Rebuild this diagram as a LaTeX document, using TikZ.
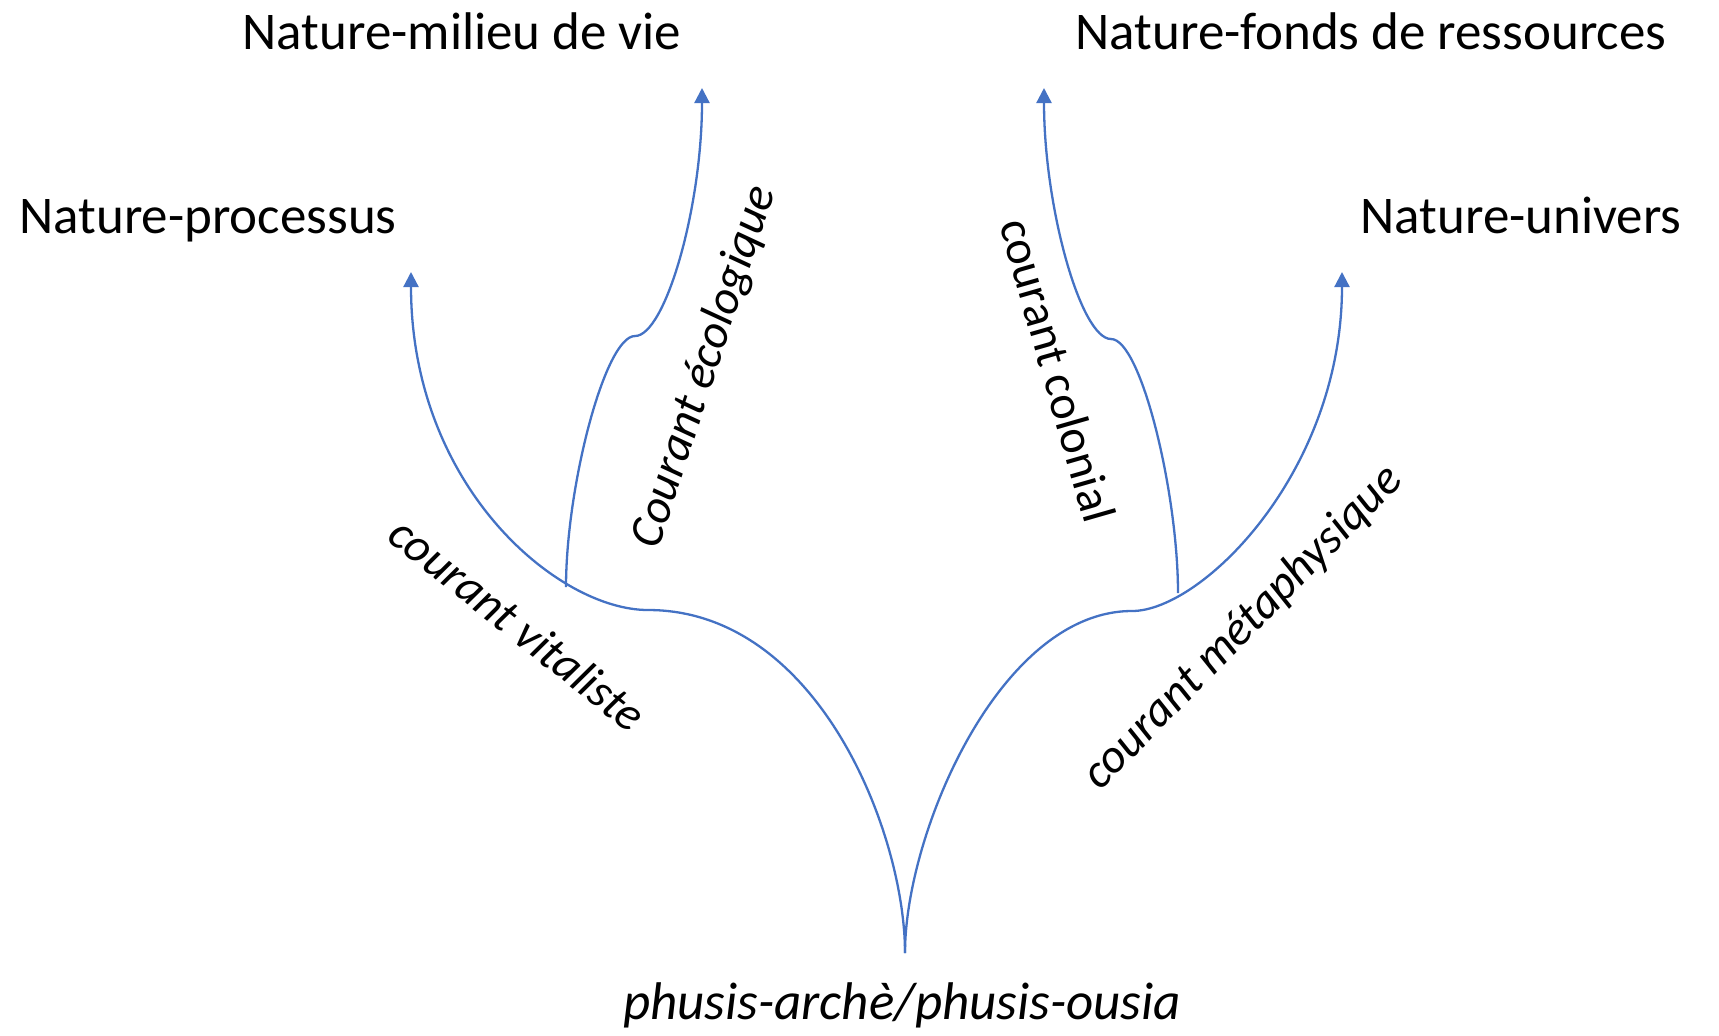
\documentclass[tikz,border=0pt]{standalone}
\usepackage{fontspec}
\setmainfont{Carlito}
\usetikzlibrary{arrows.meta}
\definecolor{branchblue}{HTML}{4472C4}
\tikzset{
  branch/.style={draw=branchblue, line width=1.15pt},
  tipped/.style={branch, -{Triangle[length=7.5pt,width=7.5pt]}},
  biglabel/.style={inner sep=0pt, anchor=base, font=\fontsize{26.5}{30}\selectfont},
  smalllabel/.style={inner sep=0pt, font=\fontsize{24}{28}\selectfont}
}
\begin{document}
\begin{tikzpicture}[x=0.5pt,y=-0.5pt]
\useasboundingbox (0,0) rectangle (1719,1035);
% labels
\node[biglabel] (milieu) at (462,49) {Nature-milieu de vie};
\node[biglabel] (fonds) at (1371,49) {Nature-fonds de ressources};
\node[biglabel] (processus) at (208,233) {Nature-processus};
\node[biglabel] (univers) at (1521,233) {Nature-univers};
\node[biglabel] (phusis) at (902,1019) {\itshape phusis-archè/phusis-ousia};
\node[smalllabel, rotate=-38.5] (vital) at (518,624) {\itshape courant vitaliste};
\node[smalllabel, rotate=72] (eco) at (705,367) {\itshape Courant écologique};
\node[smalllabel, rotate=-74] (colon) at (1058,370) {courant colonial};
\node[smalllabel, rotate=45.5] (meta) at (1243,628) {\itshape courant métaphysique};
% key points
\coordinate (root) at (905,953);
\coordinate (lobeL) at (648,610);
\coordinate (lobeR) at (1132,611);
\coordinate (brL) at (566,587);
\coordinate (brR) at (1178,593);
\coordinate (hookL) at (635,336);
\coordinate (hookR) at (1111,339);
\coordinate (tipP) at (411,272);
\coordinate (tipM) at (702,88);
\coordinate (tipF) at (1044,88);
\coordinate (tipU) at (1342,272);
% main branches
\draw[tipped] (root) .. controls (905,833) and (818,610) .. (lobeL)
  .. controls (558,610) and (411,487) .. (tipP);
\draw[tipped] (root) .. controls (905,833) and (1000,611) .. (lobeR)
  .. controls (1202,611) and (1342,472) .. (tipU);
% secondary branches
\draw[tipped] (brL) .. controls (566,487) and (605,336) .. (hookL)
  .. controls (665,336) and (702,208) .. (tipM);
\draw[tipped] (brR) .. controls (1178,493) and (1141,339) .. (hookR)
  .. controls (1081,339) and (1044,208) .. (tipF);
\end{tikzpicture}
\end{document}
